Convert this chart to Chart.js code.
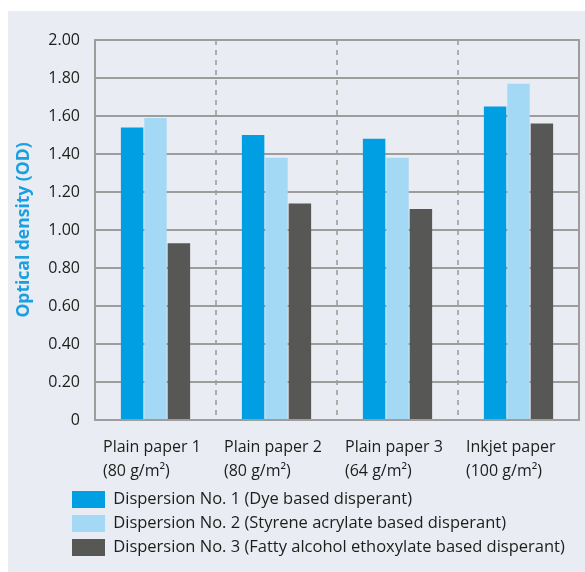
<!DOCTYPE html>
<html>
<head>
<meta charset="utf-8">
<script src="https://cdn.jsdelivr.net/npm/chart.js@4"></script>
<style>
    body { margin: 0; background: #fff; }
    #box { position: absolute; left: 8px; top: 11px; width: 577px; height: 561px; background: #e9ecf2; }
</style>
</head>
<body>
<div id="box"><canvas id="myChart" width="577" height="561"></canvas></div>
<script>
// paper types (two-line labels) and optical density per dispersion
const papers = [
    ["Plain paper 1", "(80 g/m²)"],
    ["Plain paper 2", "(80 g/m²)"],
    ["Plain paper 3", "(64 g/m²)"],
    ["Inkjet paper", "(100 g/m²)"]
];
const seriesNames = [
    "Dispersion No. 1 (Dye based disperant)",
    "Dispersion No. 2 (Styrene acrylate based disperant)",
    "Dispersion No. 3 (Fatty alcohol ethoxylate based disperant)"
];
const dispersion1 = [1.54, 1.50, 1.48, 1.65];
const dispersion2 = [1.59, 1.38, 1.38, 1.77];
const dispersion3 = [0.93, 1.14, 1.11, 1.56];
const yTicks = [0, 0.2, 0.4, 0.6, 0.8, 1.0, 1.2, 1.4, 1.6, 1.8, 2.0];

const colors = ["#009fe3", "#a4d9f6", "#575756"];
const gridGray = "#9d9d9c";
const textColor = "#1d1d1b";
const font = { family: "'Open Sans'", size: 16 };

// push the legend rows in to line up under the chart like the original
const legendShift = {
    id: "legendShift",
    afterLayout(chart) {
        chart.legend.left = 57;
    }
};

let datasetsArray = [];
[dispersion1, dispersion2, dispersion3].forEach((vals, i) => {
    datasetsArray.push({
        label: seriesNames[i],
        data: vals,
        backgroundColor: colors[i],
        borderWidth: 0,
        barPercentage: 0.96,
        categoryPercentage: 0.58,
    });
});

new Chart(document.getElementById("myChart"), {
    type: "bar",
    data: {
        labels: papers,
        datasets: datasetsArray,
    },
    options: {
        responsive: false,
        animation: false,
        layout: { autoPadding: false, padding: { left: 0, top: 29, right: 6, bottom: 6 } },
        plugins: {
            tooltip: { enabled: false },
            legend: {
                position: "bottom",
                align: "start",
                labels: {
                    boxWidth: 33,
                    boxHeight: 17,
                    padding: 7,
                    color: textColor,
                    font: { family: "'Open Sans'", size: 16.5 },
                }
            }
        },
        scales: {
            x: {
                grid: {
                    offset: true,
                    drawTicks: false,
                    lineWidth: 2,
                    // only the inner separators are dashed lines
                    color: (c) => (c.index > 0 && c.index < papers.length) ? "#adadad" : "rgba(0,0,0,0)",
                },
                border: { display: true, color: gridGray, width: 2, dash: [5, 5] },
                ticks: {
                    color: textColor,
                    font: { family: "'Open Sans'", size: 16, lineHeight: 1.5 },
                    align: "start",
                    labelOffset: -52.5,
                    padding: 15,
                    maxRotation: 0,
                    autoSkip: false,
                },
                afterFit(scale) {
                    scale.height = 64;
                    // labels are shifted back inside, no extra side room needed
                    scale.paddingLeft = 0;
                    scale.paddingRight = 0;
                }
            },
            y: {
                min: 0,
                max: 2,
                afterBuildTicks(scale) { scale.ticks = yTicks.map(v => ({ value: v })); },
                grid: { color: gridGray, lineWidth: 2, drawTicks: false },
                border: { display: true, color: gridGray, width: 2 },
                ticks: {
                    color: textColor,
                    font: font,
                    padding: 15,
                    callback: (v) => v === 0 ? "0" : v.toFixed(2),
                },
                title: {
                    display: true,
                    text: "Optical density (OD)",
                    color: "#1a9fe0",
                    font: { family: "'Open Sans'", size: 17.5, weight: "bold" },
                    padding: { top: 6, bottom: 0 },
                },
                afterFit(scale) { scale.width = 87; }
            },
            y2: {
                position: "right",
                min: 0,
                max: 2,
                grid: { drawOnChartArea: false, drawTicks: false },
                border: { display: true, color: gridGray, width: 2 },
                ticks: { display: false },
                afterFit(scale) { scale.width = 0; }
            }
        }
    },
    plugins: [legendShift],
});
</script>
</body>
</html>
